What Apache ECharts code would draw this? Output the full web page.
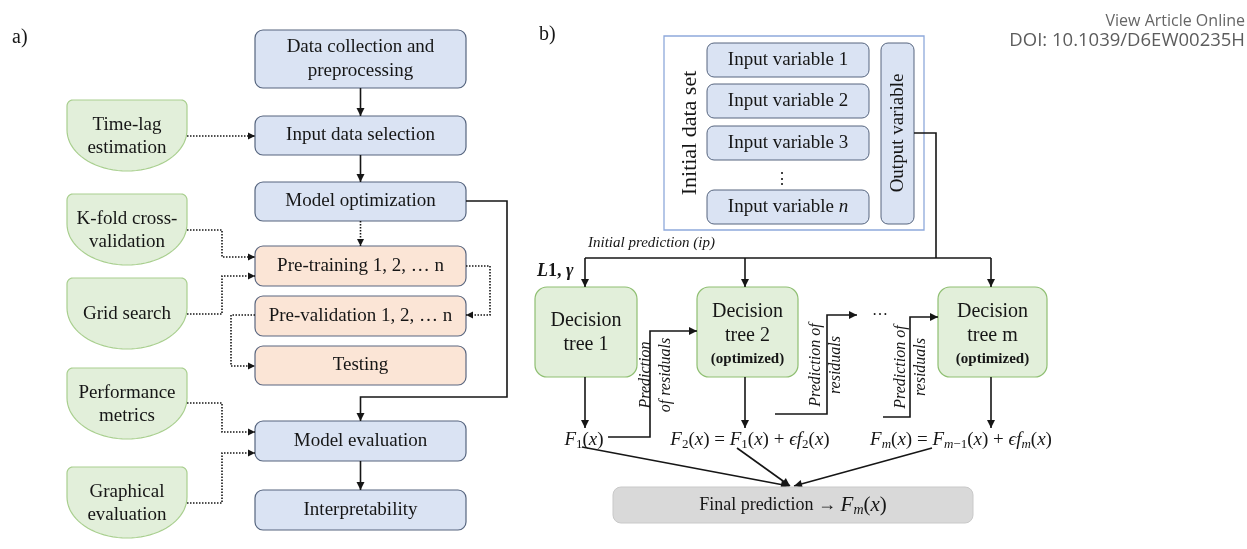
<!DOCTYPE html>
<html>
<head>
<meta charset="utf-8">
<script src="https://cdn.jsdelivr.net/npm/echarts@6/dist/echarts.min.js"></script>
<style>
  html, body { margin: 0; padding: 0; background: #ffffff; }
  #chart { width: 1247px; height: 549px; }
</style>
</head>
<body>
<div id="chart"></div>
<script>
// ---- Labels drawn in the workflow (a) ----
const mainSteps = ['Data collection and\npreprocessing', 'Input data selection', 'Model optimization', 'Model evaluation', 'Interpretability'];
const tuningSteps = ['Pre-training 1, 2, … n', 'Pre-validation 1, 2, … n', 'Testing'];
const supportSteps = ['Time-lag\nestimation', 'K-fold cross-\nvalidation', 'Grid search', 'Performance\nmetrics', 'Graphical\nevaluation'];

// ---- Labels drawn in the boosting scheme (b) ----
const inputVariables = ['Input variable 1', 'Input variable 2', 'Input variable 3', 'Input variable {i|n}'];
const datasetTitle = 'Initial data set';
const outputTitle = 'Output variable';
const treeTitles = ['Decision\ntree 1', 'Decision\ntree 2', 'Decision\ntree m'];
const treeNotes = ['', '(optimized)', '(optimized)'];
const residualNotes = ['Prediction\nof residuals', 'Prediction of\nresiduals', 'Prediction of\nresiduals'];
const formulas = [
  '{v|F}{s|1}{p|(}{v|x}{p|)}',
  '{v|F}{s|2}{p|(}{v|x}{p|) = }{v|F}{s|1}{p|(}{v|x}{p|) + }{v|ϵf}{s|2}{p|(}{v|x}{p|)}',
  '{v|F}{si|m}{p|(}{v|x}{p|) = }{v|F}{si|m}{s|−1}{p|(}{v|x}{p|) + }{v|ϵf}{si|m}{p|(}{v|x}{p|)}'
];
const finalLabel = '{t|Final prediction → }{v|F}{si|m}{p|(}{v|x}{p|)}';
const ipLabel = 'Initial prediction (ip)';
const lossLabel = '{v|L}{p|1, }{v|γ}';
const panelTags = ['a)', 'b)'];
const headerLines = ['View Article Online', 'DOI: 10.1039/D6EW00235H'];

// ---- Layout ----
const SERIF = 'Liberation Serif';
const INK = '#161616';
const C = {
  blueFill: '#dae3f3', blueLine: '#56657f',
  peachFill: '#fbe5d6', peachLine: '#5b6780',
  greenFill: '#e2efda', greenLine: '#a9cf8f',
  treeFill: '#e2efda', treeLine: '#8fbf72',
  frame: '#8ea9db', grayFill: '#d9d9d9', grayLine: '#c9c9c9'
};

const mainBoxX = 255, mainBoxW = 211;
const mainBoxY = [[30, 58], [116, 39], [182, 39], [421, 40], [490, 40]];
const tuningBoxY = [[246, 40], [296, 40], [346, 39]];
const supportX = 67, supportW = 120, supportH = 71;
const supportY = [100, 194, 278, 368, 467];

const els = [];

function fontOf(s) {
  return [s.fontStyle || 'normal', s.fontWeight || 'normal', s.fontSize + 'px', s.fontFamily].join(' ');
}
function rich(style) {
  const out = {};
  Object.keys(style).forEach(k => {
    out[k] = Object.assign({ fill: INK, fontFamily: SERIF }, style[k]);
    out[k].font = fontOf(out[k]);
  });
  return out;
}
function rect(x, y, w, h, r, fill, stroke, lw) {
  els.push({ type: 'rect', shape: { x, y, width: w, height: h, r }, style: { fill, stroke, lineWidth: lw || 1 }, silent: true });
}
function text(x, y, str, opt) {
  opt = opt || {};
  const style = Object.assign({
    text: str, x: 0, y: 0, align: 'center', verticalAlign: 'middle',
    fontFamily: SERIF, fontSize: 19, fill: INK
  }, opt.style || {});
  style.font = fontOf(style);
  els.push({ type: 'text', x, y, rotation: opt.rotation || 0, silent: true, style });
}
function head(tip, from, size) {
  const dx = tip[0] - from[0], dy = tip[1] - from[1];
  const len = Math.sqrt(dx * dx + dy * dy) || 1;
  const ux = dx / len, uy = dy / len;
  const L = size || 8, W = L * 0.5;
  const bx = tip[0] - ux * L, by = tip[1] - uy * L;
  els.push({
    type: 'polygon', silent: true,
    shape: { points: [tip, [bx - uy * W, by + ux * W], [bx + uy * W, by - ux * W]] },
    style: { fill: INK, stroke: null }
  });
}
function path(points, opt) {
  opt = opt || {};
  els.push({
    type: 'polyline', silent: true, shape: { points },
    style: { stroke: INK, lineWidth: opt.lw || 1.6, fill: null, lineDash: opt.dotted ? [1.5, 1.5] : null }
  });
  if (opt.arrow) {
    const n = points.length;
    head(points[n - 1], points[n - 2], opt.dotted ? 7 : 8);
  }
}
// flat-topped shape with a rounded (half-ellipse) bottom
function tabShape(x0, y0, w, h) {
  const h1 = 30, r = 6, pts = [];
  const cxs = x0 + w / 2, ry = h - h1;
  for (let k = 0; k <= 6; k++) {
    const a = Math.PI + (Math.PI / 2) * (k / 6);
    pts.push([x0 + r + r * Math.cos(a), y0 + r + r * Math.sin(a)]);
  }
  for (let k = 0; k <= 6; k++) {
    const a = -Math.PI / 2 + (Math.PI / 2) * (k / 6);
    pts.push([x0 + w - r + r * Math.cos(a), y0 + r + r * Math.sin(a)]);
  }
  for (let k = 0; k <= 40; k++) {
    const a = Math.PI * (k / 40);
    pts.push([cxs + (w / 2) * Math.cos(a), y0 + h1 + ry * Math.sin(a)]);
  }
  return pts;
}

// ---- Panel (a): main pipeline ----
mainSteps.forEach((label, i) => {
  const [y, h] = mainBoxY[i];
  rect(mainBoxX, y, mainBoxW, h, 8, C.blueFill, C.blueLine, 1.2);
  text(mainBoxX + mainBoxW / 2, y + h / 2, label, { style: { lineHeight: 24 } });
});
tuningSteps.forEach((label, i) => {
  const [y, h] = tuningBoxY[i];
  rect(mainBoxX, y, mainBoxW, h, 8, C.peachFill, C.peachLine, 1.2);
  text(mainBoxX + mainBoxW / 2, y + h / 2, label);
});
supportSteps.forEach((label, i) => {
  const y0 = supportY[i];
  els.push({ type: 'polygon', silent: true, shape: { points: tabShape(supportX, y0, supportW, supportH) }, style: { fill: C.greenFill, stroke: C.greenLine, lineWidth: 1.2 } });
  text(supportX + supportW / 2, y0 + supportH / 2 + 1, label, { style: { lineHeight: 23 } });
});

const cx = mainBoxX + mainBoxW / 2;
path([[cx, 88], [cx, 116]], { arrow: true });
path([[cx, 155], [cx, 182]], { arrow: true });
path([[cx, 221], [cx, 246]], { arrow: true, dotted: true });
path([[466, 201], [507, 201], [507, 397], [cx, 397], [cx, 421]], { arrow: true });
path([[cx, 461], [cx, 490]], { arrow: true });
path([[187, 136], [255, 136]], { arrow: true, dotted: true });
path([[187, 230], [222, 230], [222, 257], [255, 257]], { arrow: true, dotted: true });
path([[187, 314], [222, 314], [222, 276], [255, 276]], { arrow: true, dotted: true });
path([[466, 266], [490, 266], [490, 315], [466, 315]], { arrow: true, dotted: true });
path([[255, 315], [231, 315], [231, 366], [255, 366]], { arrow: true, dotted: true });
path([[187, 403], [222, 403], [222, 432], [255, 432]], { arrow: true, dotted: true });
path([[187, 503], [222, 503], [222, 453], [255, 453]], { arrow: true, dotted: true });

// ---- Panel (b): data set ----
rect(664, 36, 260, 194, 0, '#ffffff', C.frame, 1.3);
const inputY = [43, 84, 126, 190];
inputVariables.forEach((label, i) => {
  rect(707, inputY[i], 162, 34, 7, C.blueFill, C.blueLine, 1);
  text(788, inputY[i] + 17, label, { style: { fontSize: 19, rich: rich({ i: { fontSize: 19, fontStyle: 'italic' } }) } });
});
text(782, 180, '⋮', { style: { fontSize: 16 } });
rect(881, 43, 33, 181, 7, C.blueFill, C.blueLine, 1);
text(690, 133, datasetTitle, { rotation: Math.PI / 2, style: { fontSize: 22 } });
text(898, 133, outputTitle, { rotation: Math.PI / 2, style: { fontSize: 19 } });

// initial prediction feed
path([[914, 133], [936, 133], [936, 258]]);
path([[585, 258], [991, 258]]);
text(588, 243, ipLabel, { style: { align: 'left', fontSize: 15, fontStyle: 'italic' } });
const mathRich = rich({
  v: { fontSize: 19, fontStyle: 'italic' },
  p: { fontSize: 19 },
  s: { fontSize: 13, padding: [9, 0, 0, 0] },
  si: { fontSize: 13, fontStyle: 'italic', padding: [9, 0, 0, 0] }
});
const finalRich = rich({
  t: { fontSize: 18 },
  v: { fontSize: 21, fontStyle: 'italic' },
  p: { fontSize: 21 },
  si: { fontSize: 14, fontStyle: 'italic', padding: [10, 0, 0, 0] }
});
text(537, 271, lossLabel, { style: { align: 'left', rich: rich({ v: { fontSize: 18, fontStyle: 'italic', fontWeight: 'bold' }, p: { fontSize: 18, fontWeight: 'bold' } }) } });

// decision trees
const treeX = [[535, 102], [697, 101], [938, 109]];
const treeAxis = [585, 745, 991];
treeTitles.forEach((label, i) => {
  const [x, w] = treeX[i];
  rect(x, 287, w, 90, 12, C.treeFill, C.treeLine, 1.2);
  if (treeNotes[i]) {
    text(x + w / 2, 324, label, { style: { fontSize: 20, lineHeight: 24 } });
    text(x + w / 2, 359, treeNotes[i], { style: { fontSize: 15, fontWeight: 'bold' } });
  } else {
    text(x + w / 2, 333, label, { style: { fontSize: 20, lineHeight: 24 } });
  }
  path([[treeAxis[i], 258], [treeAxis[i], 287]], { arrow: true });
  path([[treeAxis[i], 377], [treeAxis[i], 428]], { arrow: true });
});

// ensemble updates
const formulaX = [584, 750, 961];
formulas.forEach((f, i) => {
  text(formulaX[i], 440, f, { style: { rich: mathRich } });
});

// residual hand-offs
path([[608, 437], [650, 437], [650, 331], [697, 331]], { arrow: true });
path([[775, 414], [827, 414], [827, 315], [857, 315]], { arrow: true });
path([[883, 417], [910, 417], [910, 317], [938, 317]], { arrow: true });
text(880, 311, '…', { style: { fontSize: 16 } });
const noteStyle = { fontSize: 16, fontStyle: 'italic', lineHeight: 20 };
text(656, 375, residualNotes[0], { rotation: Math.PI / 2, style: noteStyle });
text(826, 365, residualNotes[1], { rotation: Math.PI / 2, style: noteStyle });
text(911, 367, residualNotes[2], { rotation: Math.PI / 2, style: noteStyle });

// final prediction
path([[582, 447], [789, 486]], { arrow: true });
path([[737, 448], [790, 486]], { arrow: true });
path([[932, 448], [794, 486]], { arrow: true });
rect(613, 487, 360, 36, 8, C.grayFill, C.grayLine, 1);
text(793, 505, finalLabel, { style: { rich: finalRich } });

// panel tags and header
text(12, 38, panelTags[0], { style: { align: 'left', fontSize: 20 } });
text(539, 35, panelTags[1], { style: { align: 'left', fontSize: 20 } });
text(1245, 21, headerLines[0], { style: { align: 'right', fontFamily: 'Open Sans', fontSize: 16, fill: '#666666' } });
text(1245, 41, headerLines[1], { style: { align: 'right', fontFamily: 'Open Sans', fontSize: 18.5, fill: '#5c5c5c' } });

const chart = echarts.init(document.getElementById('chart'), null, { renderer: 'canvas' });
chart.setOption({
  backgroundColor: '#ffffff',
  animation: false,
  graphic: { elements: els }
});
</script>
</body>
</html>
